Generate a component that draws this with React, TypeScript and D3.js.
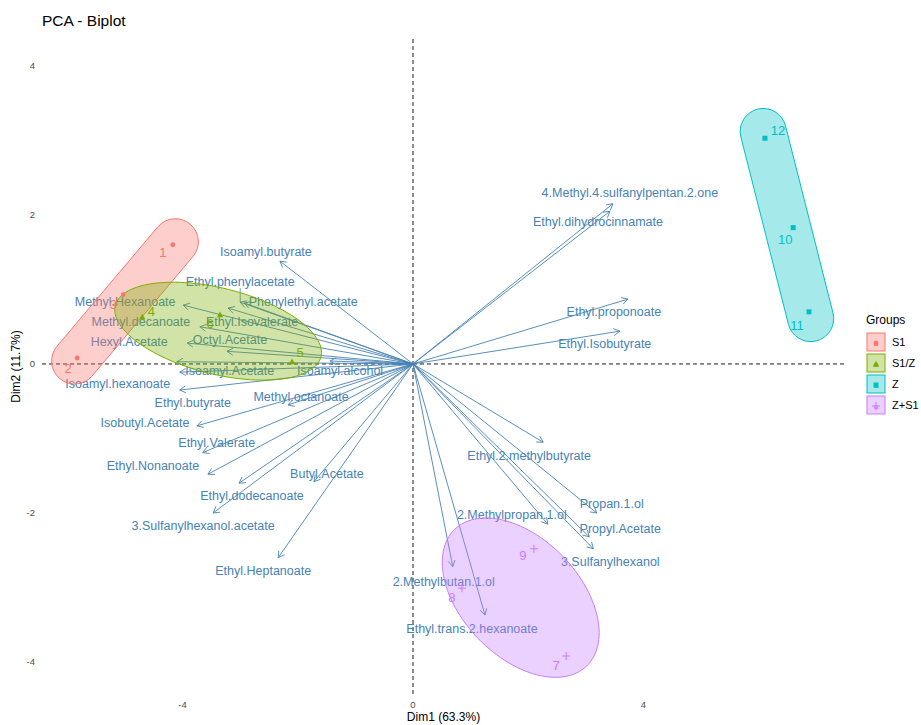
import React, { useEffect } from "react";
import * as d3 from "d3";

// ---------- data ----------
const groups = ["S1", "S1/Z", "Z", "Z+S1"];
const groupColors = ["#F8766D", "#7CAE00", "#00BFC4", "#C77CFF"];

const indLabels = ["1", "2", "3", "4", "5", "6", "7", "8", "9", "10", "11", "12"];
const indGroup = ["S1", "S1", "S1", "S1/Z", "S1/Z", "S1/Z", "Z+S1", "Z+S1", "Z+S1", "Z", "Z", "Z"];
const indDim1 = [-4.17, -5.83, -5.03, -4.7, -2.1, -3.35, 2.66, 0.85, 2.1, 6.6, 6.875, 6.11];
const indDim2 = [1.6, 0.08, 0.93, 0.63, 0.03, 0.66, -3.92, -3.01, -2.48, 1.83, 0.7, 3.03];

const varNames = [
  "Isoamyl.butyrate", "Ethyl.phenylacetate", "Phenylethyl.acetate", "Methyl.Hexanoate",
  "Ethyl.Isovalerate", "Methyl.decanoate", "Hexyl.Acetate", "Octyl.Acetate",
  "Ethyl.butyrate", "Isoamyl.Acetate", "Isoamyl.alcohol", "Isoamyl.hexanoate",
  "Methyl.octanoate", "Isobutyl.Acetate", "Ethyl.Valerate", "Ethyl.Nonanoate",
  "Ethyl.dodecanoate", "Butyl.Acetate", "3.Sulfanylhexanol.acetate", "Ethyl.Heptanoate",
  "4.Methyl.4.sulfanylpentan.2.one", "Ethyl.dihydrocinnamate", "Ethyl.proponoate", "Ethyl.Isobutyrate",
  "Ethyl.2.methylbutyrate", "Propan.1.ol", "Propyl.Acetate", "2.Methylpropan.1.ol",
  "3.Sulfanylhexanol", "2.Methylbutan.1.ol", "Ethyl.trans.2.hexanoate",
];
const varDim1 = [
  -2.31, -3.0, -2.93, -3.99, -3.21, -3.7, -3.92, -3.23, -4.1, -4.05, -1.44, -4.05,
  -2.17, -3.75, -3.65, -3.56, -3.02, -1.72, -3.47, -2.34,
  3.47, 3.42, 3.73, 3.59, 2.26, 3.19, 3.06, 2.34, 3.13, 0.69, 1.25,
];
const varDim2 = [
  1.38, 0.83, 0.82, 0.79, 0.75, 0.5, 0.28, 0.17, 0.03, -0.11, 0.04, -0.35,
  -0.55, -0.83, -1.19, -1.48, -1.6, -1.58, -2.0, -2.6,
  2.15, 2.05, 0.87, 0.44, -1.05, -2.0, -2.32, -2.15, -2.48, -2.72, -3.37,
];

const xTicks = [-4, 0, 4];
const yTicks = [-4, -2, 0, 2, 4];

// ---------- layout / style (pixels) ----------
const W = 921;
const H = 725;
const panel = { left: 42, right: 845, top: 39, bottom: 694 };
const FONT = "'Liberation Sans', Arial, Helvetica, sans-serif";
const VAR_COLOR = "#4682B4";

// label offsets (px) from arrow tips (repelled labels)
const varLabelOffset: [number, number][] = [
  [-14, -9], [0, -20], [59, -1], [-58, -3], [24, 14], [-59, -5], [-58, -1], [3, -11],
  [16, 41], [50, -1], [10, 10], [-62, -6], [13, -8], [-52, -3], [14, -10], [-55, -8],
  [13, 13], [13, -8], [-10, 13], [-15, 13],
  [17, -11], [-12, 11], [-14, 13], [-15, 13], [-14, 14], [15, -9], [31, -8], [-36, -9],
  [17, 13], [-9, 15], [-13, 14],
];
const varLeader = new Set(["Ethyl.phenylacetate"]);

const indLabelOffset: [number, number][] = [
  [-10, 8], [-9, 10], [-10, 10], [9, -6], [8, -9], [-10, 9],
  [-10, 9], [-10, 9], [-11, 7], [-8, 12], [-12, 14], [13, -8],
];

type Shape =
  | { kind: "capsule"; r: number; ext: number }
  | { kind: "ellipse"; a: number; b: number; angle: number };
const groupShape: Shape[] = [
  { kind: "capsule", r: 23, ext: 4 },
  { kind: "ellipse", a: 106, b: 43, angle: 14 },
  { kind: "capsule", r: 23, ext: 7 },
  { kind: "ellipse", a: 95, b: 59, angle: 46 },
];

function stadiumPath(p1: [number, number], p2: [number, number], r: number, ext: number) {
  const a = Math.atan2(p2[1] - p1[1], p2[0] - p1[0]);
  const q1: [number, number] = [p1[0] - ext * Math.cos(a), p1[1] - ext * Math.sin(a)];
  const q2: [number, number] = [p2[0] + ext * Math.cos(a), p2[1] + ext * Math.sin(a)];
  const p = d3.path();
  const h = Math.PI / 2;
  p.moveTo(q1[0] + r * Math.cos(a + h), q1[1] + r * Math.sin(a + h));
  p.lineTo(q2[0] + r * Math.cos(a + h), q2[1] + r * Math.sin(a + h));
  p.arc(q2[0], q2[1], r, a + h, a - h, true);
  p.lineTo(q1[0] + r * Math.cos(a - h), q1[1] + r * Math.sin(a - h));
  p.arc(q1[0], q1[1], r, a - h, a - 3 * h, true);
  p.closePath();
  return p.toString();
}

function ellipsePath(cx: number, cy: number, a: number, b: number, angleDeg: number) {
  const t = (angleDeg * Math.PI) / 180;
  const pts: [number, number][] = d3.range(0, 361, 3).map((deg) => {
    const u = (deg * Math.PI) / 180;
    const x = a * Math.cos(u);
    const y = b * Math.sin(u);
    return [cx + x * Math.cos(t) - y * Math.sin(t), cy + x * Math.sin(t) + y * Math.cos(t)];
  });
  return d3.line().curve(d3.curveLinearClosed)(pts) || "";
}

function pointMark(shape: number, x: number, y: number, color: string, key: string) {
  if (shape === 0) return <circle key={key} cx={x} cy={y} r={2.4} fill={color} />;
  if (shape === 1) {
    const s = 3.2;
    return (
      <path key={key} d={`M${x},${y - s}L${x + s},${y + s * 0.75}L${x - s},${y + s * 0.75}Z`} fill={color} />
    );
  }
  if (shape === 2) return <rect key={key} x={x - 2.5} y={y - 2.5} width={5} height={5} fill={color} />;
  return (
    <path key={key} d={`M${x - 4},${y}H${x + 4}M${x},${y - 4}V${y + 4}`} stroke={color} strokeWidth={1} fill="none" />
  );
}

export default function App() {
  useEffect(() => {
    document.body.style.margin = "0";
  }, []);

  const x = d3.scaleLinear().domain([-6.441, 7.5]).range([panel.left, panel.right]);
  const y = d3.scaleLinear().domain([-4.43, 4.362]).range([panel.bottom, panel.top]);
  const x0 = x(0);
  const y0 = y(0);

  const ptsOf = (g: string) =>
    indLabels
      .map((_, i) => i)
      .filter((i) => indGroup[i] === g)
      .map((i) => [x(indDim1[i]), y(indDim2[i])] as [number, number]);

  const shapes = groups.map((g, gi) => {
    const pts = ptsOf(g);
    const sh = groupShape[gi];
    const col = groupColors[gi];
    let d = "";
    if (sh.kind === "capsule") {
      let best: [[number, number], [number, number]] = [pts[0], pts[1]];
      let bd = -1;
      for (let i = 0; i < pts.length; i++)
        for (let j = i + 1; j < pts.length; j++) {
          const dd = Math.hypot(pts[i][0] - pts[j][0], pts[i][1] - pts[j][1]);
          if (dd > bd) {
            bd = dd;
            best = [pts[i], pts[j]];
          }
        }
      const [p1, p2] = best[0][1] > best[1][1] ? best : [best[1], best[0]];
      d = stadiumPath(p1, p2, sh.r, sh.ext);
    } else {
      const cx = d3.mean(pts, (p) => p[0]) as number;
      const cy = d3.mean(pts, (p) => p[1]) as number;
      d = ellipsePath(cx, cy, sh.a, sh.b, sh.angle);
    }
    return <path key={g} d={d} fill={col} fillOpacity={0.35} stroke={col} strokeWidth={1} />;
  });

  const arrows = varNames.map((name, i) => {
    const tx = x(varDim1[i]);
    const ty = y(varDim2[i]);
    const ang = Math.atan2(ty - y0, tx - x0);
    const L = 7;
    const h1 = [tx - L * Math.cos(ang - Math.PI / 6), ty - L * Math.sin(ang - Math.PI / 6)];
    const h2 = [tx - L * Math.cos(ang + Math.PI / 6), ty - L * Math.sin(ang + Math.PI / 6)];
    return (
      <path
        key={name}
        d={`M${x0},${y0}L${tx},${ty}M${h1[0]},${h1[1]}L${tx},${ty}L${h2[0]},${h2[1]}`}
        stroke={VAR_COLOR}
        strokeWidth={0.9}
        fill="none"
      />
    );
  });

  const varLabels = varNames.map((name, i) => {
    const tx = x(varDim1[i]);
    const ty = y(varDim2[i]);
    const [dx, dy] = varLabelOffset[i];
    return (
      <g key={name}>
        {varLeader.has(name) && (
          <line x1={tx + dx} y1={ty + dy + 6} x2={tx} y2={ty} stroke={VAR_COLOR} strokeWidth={0.8} />
        )}
        <text
          x={tx + dx}
          y={ty + dy}
          textAnchor="middle"
          dominantBaseline="central"
          fill={VAR_COLOR}
          fontSize={12.5}
          fontFamily={FONT}
        >
          {name}
        </text>
      </g>
    );
  });

  const indMarks = indLabels.map((lab, i) => {
    const gi = groups.indexOf(indGroup[i]);
    const col = groupColors[gi];
    const px = x(indDim1[i]);
    const py = y(indDim2[i]);
    const [dx, dy] = indLabelOffset[i];
    return (
      <g key={lab}>
        {pointMark(gi, px, py, col, "m" + lab)}
        <text
          x={px + dx}
          y={py + dy}
          textAnchor="middle"
          dominantBaseline="central"
          fill={col}
          fontSize={13}
          fontFamily={FONT}
        >
          {lab}
        </text>
      </g>
    );
  });

  return (
    <svg width={W} height={H} style={{ display: "block", background: "#fff" }} fontFamily={FONT}>
      {/* title */}
      <text x={42} y={26} fontSize={15.5} fill="#000">
        PCA - Biplot
      </text>

      {/* reference lines */}
      <line x1={panel.left} x2={panel.right} y1={y0} y2={y0} stroke="#000" strokeWidth={0.9} strokeDasharray="4,3" />
      <line x1={x0} x2={x0} y1={panel.top} y2={panel.bottom} stroke="#000" strokeWidth={0.9} strokeDasharray="4,3" />

      {/* variable arrows and labels */}
      {arrows}
      {varLabels}

      {/* group ellipses */}
      {shapes}

      {/* individuals */}
      {indMarks}

      {/* axes tick labels */}
      {xTicks.map((t) => (
        <text key={"x" + t} x={x(t)} y={panel.bottom + 10} textAnchor="middle" dominantBaseline="central" fontSize={9.5} fill="#4D4D4D">
          {t}
        </text>
      ))}
      {yTicks.map((t) => (
        <text key={"y" + t} x={35} y={y(t)} textAnchor="end" dominantBaseline="central" fontSize={9.5} fill="#4D4D4D">
          {t}
        </text>
      ))}

      {/* axis titles */}
      <text x={(panel.left + panel.right) / 2} y={717} textAnchor="middle" dominantBaseline="central" fontSize={12} fill="#000">
        Dim1 (63.3%)
      </text>
      <text
        transform={`translate(16,${(panel.top + panel.bottom) / 2}) rotate(-90)`}
        textAnchor="middle"
        dominantBaseline="central"
        fontSize={12}
        fill="#000"
      >
        Dim2 (11.7%)
      </text>

      {/* legend */}
      <text x={866} y={320} dominantBaseline="central" fontSize={12} fill="#000">
        Groups
      </text>
      {groups.map((g, gi) => {
        const cy = 342 + gi * 21;
        const col = groupColors[gi];
        return (
          <g key={"lg" + g}>
            <rect x={867} y={cy - 9} width={18} height={18} fill={col} fillOpacity={0.35} stroke={col} strokeWidth={1} />
            <text x={876} y={cy + 1} textAnchor="middle" dominantBaseline="central" fontSize={8} fontWeight="bold" fill={col}>
              a
            </text>
            {pointMark(gi, 876, cy + 1, col, "lgm" + g)}
            <text x={892} y={cy} dominantBaseline="central" fontSize={11} fill="#000">
              {g}
            </text>
          </g>
        );
      })}
    </svg>
  );
}
